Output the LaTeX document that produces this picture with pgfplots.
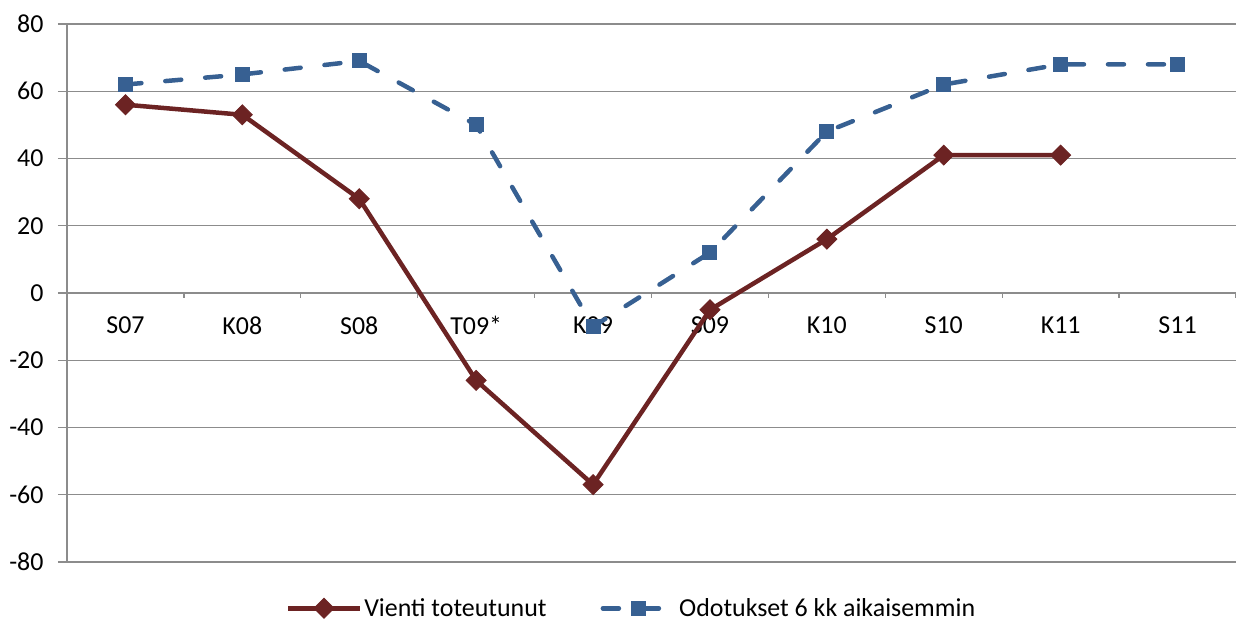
\documentclass[border=0pt]{standalone}
\usepackage{fontspec}
\setmainfont{Carlito}
\usepackage{pgfplots}
\pgfplotsset{compat=1.18}
\definecolor{vred}{RGB}{108,35,35}
\definecolor{oblue}{RGB}{55,96,146}
\definecolor{gridgray}{RGB}{140,140,140}
\begin{document}
\begin{tikzpicture}
\begin{axis}[
  name=ax,
  scale only axis, width=1169bp, height=538bp,
  xmin=-0.5, xmax=9.5, ymin=-80, ymax=80,
  axis x line=middle, axis y line=left,
  axis line style={-, gridgray, line width=1.3bp},
  hide obscured x ticks=false, hide obscured y ticks=false,
  xtick={0,...,9},
  xticklabels={S07,K08,S08,T09*,K09,S09,K10,S10,K11,S11},
  minor xtick={-0.5,0.5,...,9.5},
  ytick={-80,-60,...,80},
  ymajorgrids, grid style={gridgray, line width=1.3bp},
  tick align=outside,
  major tick length=9bp, minor tick length=5bp,
  tick style={gridgray, line width=1.3bp},
  every major x tick/.append style={draw=none},
  tick label style={font=\fontsize{26}{30}\selectfont, text=black},
  /pgf/number format/assume math mode=true,
  xticklabel style={yshift=-11bp},
  yticklabel style={xshift=-11bp},
  legend style={at={(0.187,-0.086)}, anchor=west, draw=none, inner sep=0pt,
    nodes={inner ysep=0pt},
    font=\fontsize{26}{30}\selectfont, legend columns=2,
    /tikz/every even column/.append style={column sep=52bp}},
  legend image code/.code={\draw[mark repeat=2,mark phase=2,#1] plot coordinates {(0bp,0bp) (36bp,0bp) (72bp,0bp)};},
]
\addplot[vred, line width=4.5bp, mark=square*, mark size=7bp, mark options={solid, rotate=45, line width=1bp}]
  coordinates {(0,56) (1,53) (2,28) (3,-26) (4,-57) (5,-5) (6,16) (7,41) (8,41)};
\addlegendentry{Vienti toteutunut}
\addplot[oblue, line width=4.5bp, line cap=round, dash pattern=on 16bp off 24bp, mark=square*, mark size=7bp, mark options={solid, line width=1bp}]
  coordinates {(0,62) (1,65) (2,69) (3,50) (4,-10) (5,12) (6,48) (7,62) (8,68) (9,68)};
\addlegendentry{Odotukset 6 kk aikaisemmin}
\end{axis}
\pgfresetboundingbox
\useasboundingbox ([xshift=-67bp,yshift=-62bp]ax.south west) rectangle ([yshift=24bp]ax.north east);
\end{tikzpicture}
\end{document}
